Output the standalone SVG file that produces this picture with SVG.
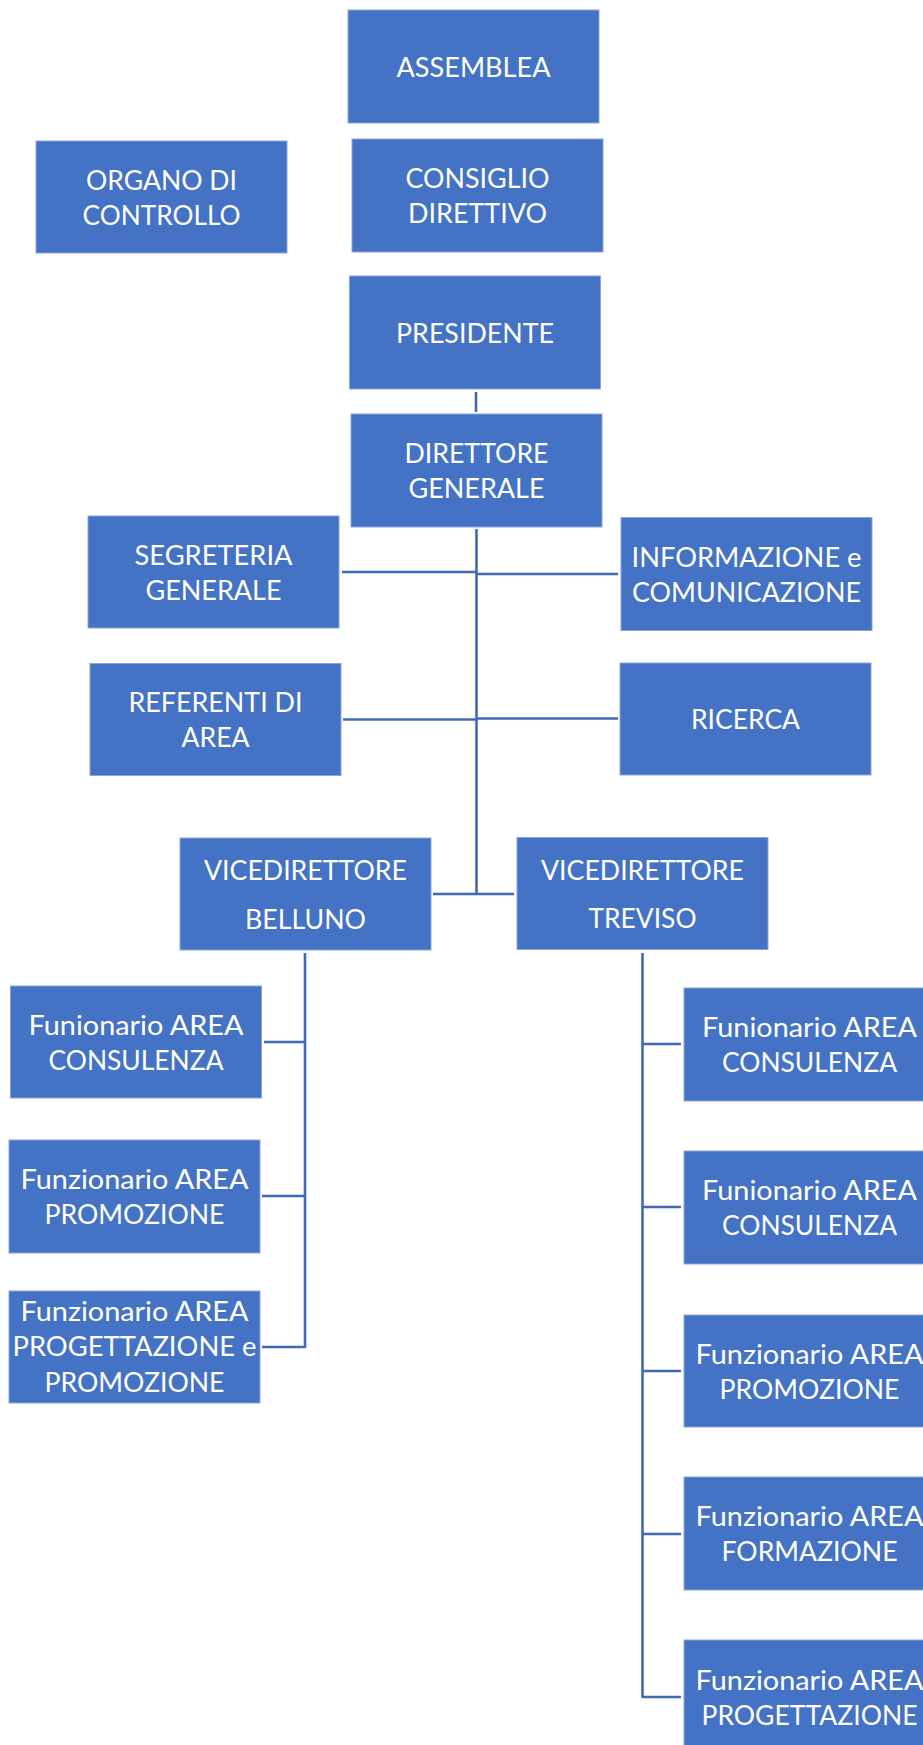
<svg xmlns="http://www.w3.org/2000/svg" width="923" height="1745" viewBox="0 0 923 1745">
<style>
.box{fill:#4472C4;stroke:#8AA6DA;stroke-width:1}
.t{font-family:Lato,"Open Sans","Liberation Sans",sans-serif;font-size:27px;fill:#ffffff;text-anchor:middle}
.c{stroke:#4169B6;stroke-width:2.6;fill:none}
</style>
<rect width="923" height="1745" fill="#ffffff"/>
<g id="connectors">
<line class="c" x1="476" y1="392" x2="476" y2="412" stroke="#3B5E9E"/>
<line class="c" x1="476.5" y1="529" x2="476.5" y2="895"/>
<line class="c" x1="342" y1="572" x2="476.5" y2="572"/>
<line class="c" x1="476.5" y1="574" x2="618" y2="574"/>
<line class="c" x1="343" y1="719.5" x2="476.5" y2="719.5"/>
<line class="c" x1="476.5" y1="718.5" x2="618" y2="718.5"/>
<line class="c" x1="433" y1="894" x2="514" y2="894"/>
<line class="c" x1="305" y1="953" x2="305" y2="1348"/>
<line class="c" x1="264" y1="1042" x2="305" y2="1042"/>
<line class="c" x1="262" y1="1196" x2="305" y2="1196"/>
<line class="c" x1="262" y1="1347" x2="305" y2="1347"/>
<line class="c" x1="642.5" y1="953" x2="642.5" y2="1698"/>
<line class="c" x1="642.5" y1="1044" x2="681" y2="1044"/>
<line class="c" x1="642.5" y1="1207" x2="681" y2="1207"/>
<line class="c" x1="642.5" y1="1371" x2="681" y2="1371"/>
<line class="c" x1="642.5" y1="1534" x2="681" y2="1534"/>
<line class="c" x1="642.5" y1="1697" x2="681" y2="1697"/>
</g>
<g id="assemblea"><rect class="box" x="348" y="10" width="251" height="113"/>
<text class="t" x="473.5" y="76.5" textLength="154" lengthAdjust="spacingAndGlyphs">ASSEMBLEA</text></g>
<g id="organo-di-controllo"><rect class="box" x="36" y="141" width="251" height="112"/>
<text class="t" x="161.5" y="189.5" textLength="151" lengthAdjust="spacingAndGlyphs">ORGANO DI</text>
<text class="t" x="161.5" y="224.5" textLength="158" lengthAdjust="spacingAndGlyphs">CONTROLLO</text></g>
<g id="consiglio-direttivo"><rect class="box" x="352" y="139" width="251" height="113"/>
<text class="t" x="477.5" y="188" textLength="144" lengthAdjust="spacingAndGlyphs">CONSIGLIO</text>
<text class="t" x="477.5" y="223" textLength="139" lengthAdjust="spacingAndGlyphs">DIRETTIVO</text></g>
<g id="presidente"><rect class="box" x="349.5" y="276" width="251" height="113"/>
<text class="t" x="475" y="342.5" textLength="158" lengthAdjust="spacingAndGlyphs">PRESIDENTE</text></g>
<g id="direttore-generale"><rect class="box" x="351" y="414" width="251" height="113"/>
<text class="t" x="476.5" y="463" textLength="144" lengthAdjust="spacingAndGlyphs">DIRETTORE</text>
<text class="t" x="476.5" y="498" textLength="136" lengthAdjust="spacingAndGlyphs">GENERALE</text></g>
<g id="segreteria-generale"><rect class="box" x="88" y="516" width="251" height="112"/>
<text class="t" x="213.5" y="564.5" textLength="158" lengthAdjust="spacingAndGlyphs">SEGRETERIA</text>
<text class="t" x="213.5" y="599.5" textLength="136" lengthAdjust="spacingAndGlyphs">GENERALE</text></g>
<g id="informazione-comunicazione"><rect class="box" x="621" y="517.5" width="251" height="113"/>
<text class="t" x="746.5" y="566.5" textLength="230" lengthAdjust="spacingAndGlyphs">INFORMAZIONE e</text>
<text class="t" x="746.5" y="601.5" textLength="229" lengthAdjust="spacingAndGlyphs">COMUNICAZIONE</text></g>
<g id="referenti-di-area"><rect class="box" x="90" y="663.5" width="251" height="112"/>
<text class="t" x="215.5" y="712" textLength="174" lengthAdjust="spacingAndGlyphs">REFERENTI DI</text>
<text class="t" x="215.5" y="747" textLength="68" lengthAdjust="spacingAndGlyphs">AREA</text></g>
<g id="ricerca"><rect class="box" x="620" y="663" width="251" height="112"/>
<text class="t" x="745.5" y="729" textLength="109" lengthAdjust="spacingAndGlyphs">RICERCA</text></g>
<g id="vicedirettore-belluno"><rect class="box" x="180" y="838" width="251" height="112"/>
<text class="t" x="305.5" y="880" textLength="203" lengthAdjust="spacingAndGlyphs">VICEDIRETTORE</text>
<text class="t" x="305.5" y="928.5" textLength="121" lengthAdjust="spacingAndGlyphs">BELLUNO</text></g>
<g id="vicedirettore-treviso"><rect class="box" x="517" y="837.5" width="251" height="112"/>
<text class="t" x="642.5" y="879.5" textLength="203" lengthAdjust="spacingAndGlyphs">VICEDIRETTORE</text>
<text class="t" x="642.5" y="928" textLength="108" lengthAdjust="spacingAndGlyphs">TREVISO</text></g>
<g id="belluno-consulenza"><rect class="box" x="10.5" y="986" width="251" height="112"/>
<text class="t" x="136" y="1034.5" textLength="215" lengthAdjust="spacingAndGlyphs">Funionario AREA</text>
<text class="t" x="136" y="1069.5" textLength="175" lengthAdjust="spacingAndGlyphs">CONSULENZA</text></g>
<g id="belluno-promozione"><rect class="box" x="9" y="1140" width="251" height="113"/>
<text class="t" x="134.5" y="1189" textLength="228" lengthAdjust="spacingAndGlyphs">Funzionario AREA</text>
<text class="t" x="134.5" y="1224" textLength="180" lengthAdjust="spacingAndGlyphs">PROMOZIONE</text></g>
<g id="belluno-progettazione"><rect class="box" x="9" y="1291" width="251" height="112"/>
<text class="t" x="134.5" y="1321" textLength="228" lengthAdjust="spacingAndGlyphs">Funzionario AREA</text>
<text class="t" x="134.5" y="1356" textLength="244" lengthAdjust="spacingAndGlyphs">PROGETTAZIONE e</text>
<text class="t" x="134.5" y="1391.5" textLength="180" lengthAdjust="spacingAndGlyphs">PROMOZIONE</text></g>
<g id="treviso-consulenza-1"><rect class="box" x="684" y="988" width="251" height="113"/>
<text class="t" x="809.5" y="1037" textLength="215" lengthAdjust="spacingAndGlyphs">Funionario AREA</text>
<text class="t" x="809.5" y="1072" textLength="175" lengthAdjust="spacingAndGlyphs">CONSULENZA</text></g>
<g id="treviso-consulenza-2"><rect class="box" x="684" y="1151" width="251" height="113"/>
<text class="t" x="809.5" y="1200" textLength="215" lengthAdjust="spacingAndGlyphs">Funionario AREA</text>
<text class="t" x="809.5" y="1235" textLength="175" lengthAdjust="spacingAndGlyphs">CONSULENZA</text></g>
<g id="treviso-promozione"><rect class="box" x="684" y="1315" width="251" height="112"/>
<text class="t" x="809.5" y="1363.5" textLength="228" lengthAdjust="spacingAndGlyphs">Funzionario AREA</text>
<text class="t" x="809.5" y="1398.5" textLength="180" lengthAdjust="spacingAndGlyphs">PROMOZIONE</text></g>
<g id="treviso-formazione"><rect class="box" x="684" y="1477" width="251" height="113"/>
<text class="t" x="809.5" y="1526" textLength="228" lengthAdjust="spacingAndGlyphs">Funzionario AREA</text>
<text class="t" x="809.5" y="1561" textLength="176" lengthAdjust="spacingAndGlyphs">FORMAZIONE</text></g>
<g id="treviso-progettazione"><rect class="box" x="684" y="1640" width="251" height="113"/>
<text class="t" x="809.5" y="1689.5" textLength="228" lengthAdjust="spacingAndGlyphs">Funzionario AREA</text>
<text class="t" x="809.5" y="1724.5" textLength="216" lengthAdjust="spacingAndGlyphs">PROGETTAZIONE</text></g>
</svg>
